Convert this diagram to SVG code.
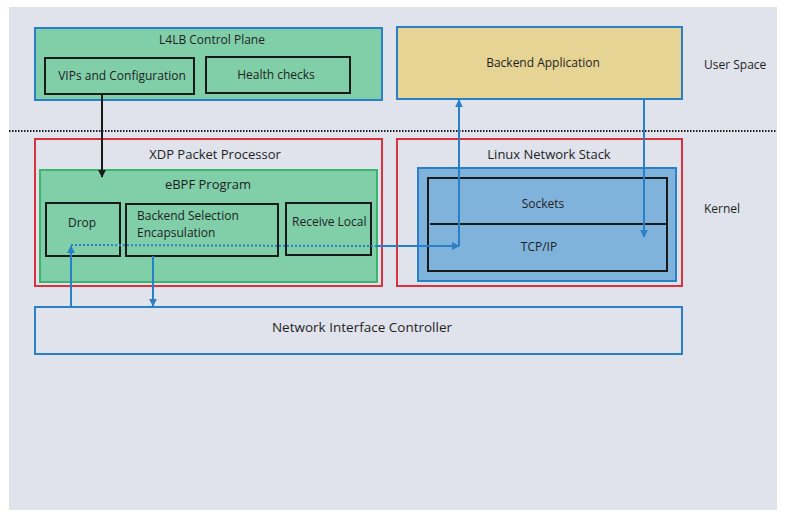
<svg xmlns="http://www.w3.org/2000/svg" width="790" height="521" viewBox="0 0 790 521">
<defs>
<style>
text{font-family:"Open Sans","Noto Sans","Liberation Sans",sans-serif;fill:#1e1e1e;font-size:12px}
.t{font-size:13px}
.c{text-anchor:middle}
.bl{stroke:#2a80c8;stroke-width:2}
.rd{fill:none;stroke:#d8333f;stroke-width:2}
.bk{stroke:#1a1a1a;stroke-width:2}
.conn{fill:none;stroke:#2a80c8;stroke-width:2}
</style>
<marker id="ab" viewBox="0 0 10 10" refX="9" refY="5" markerWidth="4" markerHeight="4" orient="auto"><path d="M0,0L10,5L0,10z" fill="#2a80c8"/></marker>
<marker id="ak" viewBox="0 0 10 10" refX="9" refY="5" markerWidth="4" markerHeight="4" orient="auto"><path d="M0,0L10,5L0,10z" fill="#1a1a1a"/></marker>
</defs>
<rect x="0" y="0" width="790" height="521" fill="#ffffff"/>
<rect x="9" y="7" width="768" height="503" fill="#e0e3ec"/>
<line x1="9" y1="131" x2="777" y2="131" stroke="#222" stroke-width="2" stroke-dasharray="1.5,1.5"/>
<text x="704" y="69">User Space</text>
<text x="704" y="213">Kernel</text>

<g id="l4lb">
<rect x="35" y="28" width="347" height="72" fill="#80cfa9" class="bl"/>
<text class="c" x="212" y="44">L4LB Control Plane</text>
</g>
<g id="vips">
<rect x="45" y="58" width="149" height="36" fill="none" class="bk"/>
<text class="c" x="122" y="80">VIPs and Configuration</text>
</g>
<g id="health">
<rect x="206" y="57" width="144" height="36" fill="none" class="bk"/>
<text class="c" x="276" y="79">Health checks</text>
</g>
<g id="backend">
<rect x="397" y="27" width="285" height="72" fill="#e6d495" class="bl"/>
<text class="c" x="543" y="67">Backend Application</text>
</g>
<g id="xdp">
<rect x="35" y="139" width="347" height="147" class="rd"/>
<text class="t c" x="215" y="159">XDP Packet Processor</text>
</g>
<g id="ebpf">
<rect x="40" y="170" width="337" height="112" fill="#80cfa9" stroke="#3bb46d" stroke-width="2"/>
<text class="t c" x="208" y="189">eBPF Program</text>
</g>
<g id="drop">
<rect x="46" y="203" width="74" height="53" fill="none" class="bk"/>
<text x="68" y="227">Drop</text>
</g>
<g id="selection">
<rect x="126" y="204" width="152" height="52" fill="none" class="bk"/>
<text x="137" y="220">Backend Selection</text>
<text x="137" y="237">Encapsulation</text>
</g>
<g id="receive">
<rect x="286" y="203" width="85" height="52" fill="none" class="bk"/>
<text x="292" y="226">Receive Local</text>
</g>
<g id="linux">
<rect x="397" y="139" width="285" height="147" class="rd"/>
<text class="t c" x="549" y="159">Linux Network Stack</text>
</g>
<g id="stackbox">
<rect x="418" y="168" width="258" height="113" fill="#80b3dc" class="bl"/>
<rect x="428" y="178" width="239" height="93" fill="none" class="bk"/>
<line x1="430" y1="224" x2="667" y2="224" class="bk"/>
</g>
<g id="sockets">
<text class="c" x="543" y="208">Sockets</text>
</g>
<g id="tcpip">
<text class="c" x="539" y="251">TCP/IP</text>
</g>
<g id="nic">
<rect x="35" y="307" width="647" height="47" fill="none" class="bl"/>
<text class="c" x="362" y="332" style="font-size:13.5px">Network Interface Controller</text>
</g>

<g id="connectors">
<line x1="102" y1="95" x2="102" y2="177" stroke="#1a1a1a" stroke-width="2" marker-end="url(#ak)"/>
<line x1="71" y1="307" x2="71" y2="246" class="conn" marker-end="url(#ab)"/>
<line x1="71" y1="245" x2="376" y2="246" stroke="#2a80c8" stroke-width="2" stroke-dasharray="2,2"/>
<line x1="376" y1="246" x2="459" y2="246" class="conn" marker-end="url(#ab)"/>
<line x1="459" y1="246" x2="459" y2="100" class="conn" marker-end="url(#ab)"/>
<line x1="644" y1="100" x2="644" y2="237" class="conn" marker-end="url(#ab)"/>
<line x1="153" y1="256" x2="153" y2="306" class="conn" marker-end="url(#ab)"/>
</g>
</svg>
